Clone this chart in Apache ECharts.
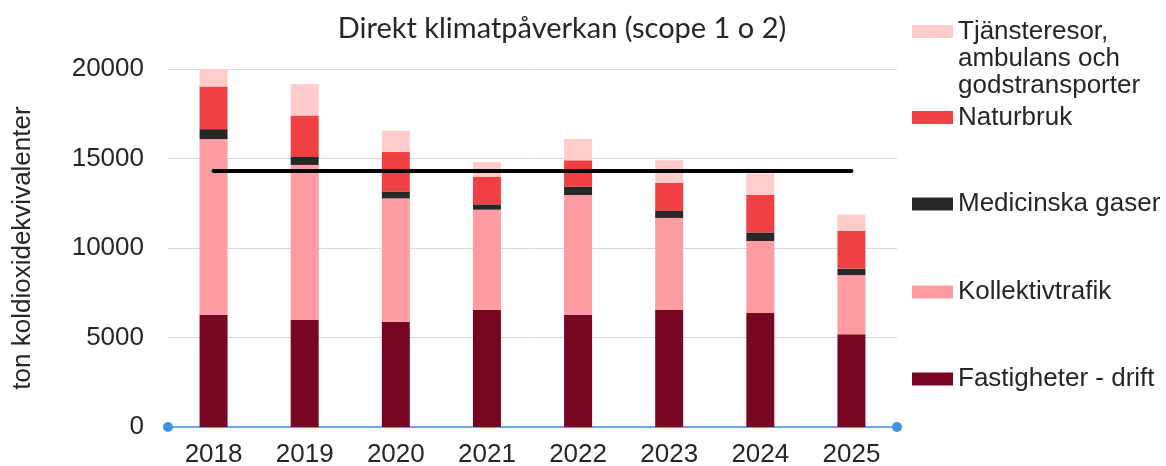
<!DOCTYPE html>
<html>
<head>
<meta charset="utf-8">
<script src="https://cdn.jsdelivr.net/npm/echarts@6/dist/echarts.min.js"></script>
<style>
html,body{margin:0;padding:0;background:#fff;}
#chart{width:1166px;height:466px;}
</style>
</head>
<body>
<div id="chart"></div>
<script>
const years = ['2018','2019','2020','2021','2022','2023','2024','2025'];
const fastigheter = [6270, 5980, 5880, 6540, 6270, 6540, 6370, 5180];
const kollektivtrafik = [9810, 8660, 6890, 5600, 6690, 5140, 4020, 3300];
const medicinska = [560, 450, 390, 300, 470, 390, 480, 370];
const naturbruk = [2380, 2310, 2200, 1550, 1470, 1560, 2100, 2100];
const tjansteresor = [970, 1750, 1190, 820, 1190, 1270, 1190, 910];
const malniva = [14300, 14300, 14300, 14300, 14300, 14300, 14300, 14300];
const yTicks = {min: 0, max: 20000, interval: 5000};

const names = {
  tj: 'Tjänsteresor, ambulans och godstransporter',
  na: 'Naturbruk',
  me: 'Medicinska gaser',
  ko: 'Kollektivtrafik',
  fa: 'Fastigheter - drift'
};
const colors = {
  tj: '#FFCBCB',
  na: '#EF4144',
  me: '#282828',
  ko: '#FF9CA2',
  fa: '#780622'
};

const txt = '#262626';
const fontAxis = "'Liberation Sans', Arial, sans-serif";
const fs = 26;

function legendFor(key, top, extra) {
  return Object.assign({
    data: [names[key]],
    orient: 'vertical',
    left: 912,
    top: top,
    padding: 0,
    itemWidth: 41,
    itemHeight: 13,
    icon: 'rect',
    selectedMode: false,
    textStyle: {fontSize: fs, fontFamily: fontAxis, color: txt, lineHeight: 27}
  }, extra || {});
}

const chart = echarts.init(document.getElementById('chart'));
const barBase = {type: 'bar', stack: 'total', barWidth: 28};
chart.setOption({
  animation: false,
  backgroundColor: '#ffffff',
  title: {
    text: 'Direkt klimatpåverkan (scope 1 o 2)',
    left: 557,
    textAlign: 'center',
    top: 7,
    textStyle: {fontFamily: 'Lato, Open Sans, sans-serif', fontSize: 29, fontWeight: 'normal', color: txt, lineHeight: 34}
  },
  legend: [
    legendFor('tj', -36, {
      formatter: function () { return '\n\nTjänsteresor,\nambulans och\ngodstransporter'; }
    }),
    legendFor('na', 104),
    legendFor('me', 190.5),
    legendFor('ko', 278.5),
    legendFor('fa', 365.5)
  ],
  grid: {left: 168, right: 269, top: 69, bottom: 39, containLabel: false, outerBoundsMode: 'none'},
  xAxis: {
    type: 'category',
    data: years,
    axisTick: {show: false},
    axisLine: {
      show: true,
      symbol: ['circle', 'circle'],
      symbolSize: [10, 10],
      lineStyle: {color: '#3f93e2', width: 1.5}
    },
    axisLabel: {fontSize: fs, fontFamily: fontAxis, color: txt, margin: 15}
  },
  yAxis: {
    type: 'value',
    min: yTicks.min,
    max: yTicks.max,
    interval: yTicks.interval,
    name: 'ton koldioxidekvivalenter',
    nameLocation: 'middle',
    nameGap: 132,
    nameTextStyle: {fontSize: fs, fontFamily: fontAxis, color: txt},
    axisLine: {show: false},
    axisTick: {show: false},
    splitLine: {lineStyle: {color: '#d9d9d9', width: 1}},
    axisLabel: {fontSize: fs, fontFamily: fontAxis, color: txt, margin: 24,
      formatter: function (v) { return String(v); }}
  },
  series: [
    Object.assign({}, barBase, {name: names.fa, data: fastigheter, itemStyle: {color: colors.fa}}),
    Object.assign({}, barBase, {name: names.ko, data: kollektivtrafik, itemStyle: {color: colors.ko}}),
    Object.assign({}, barBase, {name: names.me, data: medicinska, itemStyle: {color: colors.me}}),
    Object.assign({}, barBase, {name: names.na, data: naturbruk, itemStyle: {color: colors.na}}),
    Object.assign({}, barBase, {name: names.tj, data: tjansteresor, itemStyle: {color: colors.tj}}),
    {
      name: 'Målnivå',
      type: 'line',
      data: malniva,
      symbol: 'none',
      z: 5,
      lineStyle: {color: '#000000', width: 4, cap: 'round'}
    }
  ]
});
</script>
</body>
</html>
